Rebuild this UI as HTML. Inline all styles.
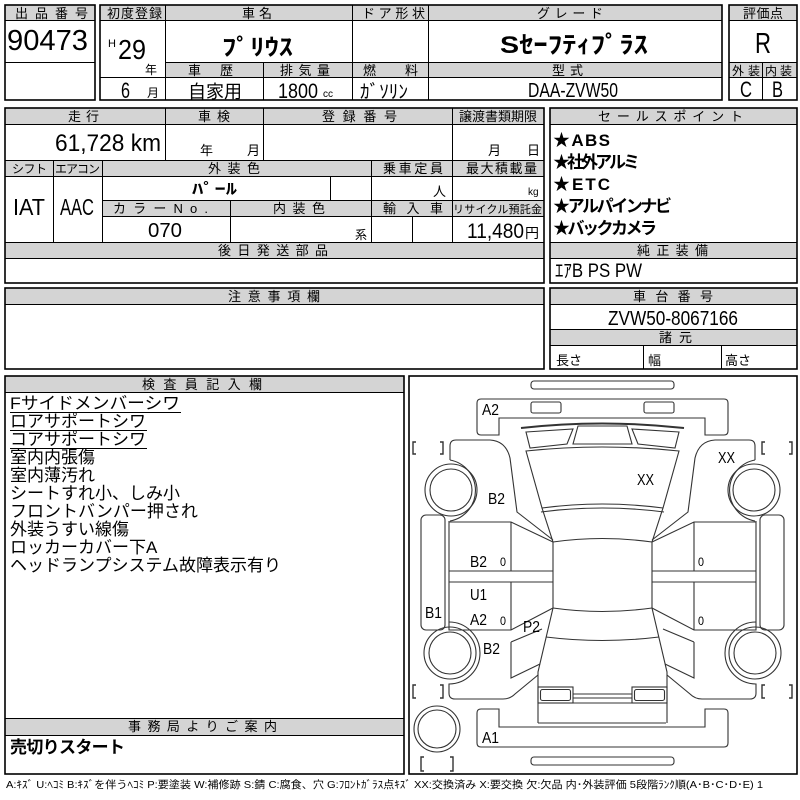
<!DOCTYPE html>
<html><head><meta charset="utf-8"><style>
html,body{margin:0;padding:0;background:#fff;}
svg{display:block;}
text{font-family:"Liberation Sans","Noto Sans CJK JP",sans-serif;fill:#000;}
.h{font-size:13px;}
.d{fill:none;stroke:#333;stroke-width:1.1;}
.lb{font-size:16px;}
</style></head><body>
<svg width="800" height="800" viewBox="0 0 800 800" xmlns="http://www.w3.org/2000/svg">
<rect width="800" height="800" fill="#fff"/>
<g fill="#d4d4d4">
<rect x="5" y="5" width="90" height="15"/>
<rect x="100" y="5" width="622" height="15"/>
<rect x="165" y="62" width="557" height="15"/>
<rect x="729" y="5" width="68" height="15"/>
<rect x="729" y="62" width="68" height="15"/>
<rect x="5" y="108" width="539" height="16"/>
<rect x="5" y="160" width="539" height="16"/>
<rect x="102" y="200" width="442" height="16"/>
<rect x="5" y="242" width="539" height="16"/>
<rect x="550" y="108" width="247" height="16"/>
<rect x="550" y="242" width="247" height="16"/>
<rect x="5" y="288" width="539" height="16"/>
<rect x="550" y="288" width="247" height="16"/>
<rect x="550" y="329" width="247" height="16"/>
<rect x="5" y="376" width="399" height="16"/>
<rect x="5" y="718" width="399" height="17"/>
</g>
<g stroke="#000" stroke-width="1" fill="none">
<path d="M5 20.5H95M5 62.5H95"/>
<path d="M100 20.5H722M165 62.5H722M100 77.5H722M165.5 5V100M352.5 5V100M428.5 5V100M263.5 62V100"/>
<path d="M729 20.5H797M729 62.5H797M729 77.5H797M762.5 62V100"/>
<path d="M5 124.5H544M5 160.5H544M5 176.5H544M102 200.5H544M102 216.5H544M5 242.5H544M5 258.5H544"/>
<path d="M165.5 108V160M263.5 108V160M452.5 108V242M53.5 160V242M102.5 160V242M371.5 160V242M330.5 176V200M230.5 200V242M412.5 216V242"/>
<path d="M550 124.5H797M550 242.5H797M550 258.5H797"/>
<path d="M5 304.5H544M550 304.5H797M550 329.5H797M550 345.5H797M643.5 345V369M721.5 345V369"/>
<path d="M5 392.5H404M5 718.5H404M5 735.5H404"/>
<path d="M10 412.5H181M10 430.5H147M10 448.5H147"/>
</g>
<g stroke="#000" stroke-width="1.6" fill="none">
<rect x="5" y="5" width="90" height="95"/>
<rect x="100" y="5" width="622" height="95"/>
<rect x="729" y="5" width="68" height="95"/>
<rect x="5" y="108" width="539" height="175"/>
<rect x="550" y="108" width="247" height="175"/>
<rect x="5" y="288" width="539" height="81"/>
<rect x="550" y="288" width="247" height="81"/>
<rect x="5" y="376" width="399" height="398"/>
<rect x="409" y="376" width="388" height="398"/>
</g>

<!-- Section 1 text -->
<text class="h" x="15" y="18" textLength="73" lengthAdjust="spacing">出品番号</text>
<text x="7" y="50" font-size="29" textLength="81" lengthAdjust="spacingAndGlyphs">90473</text>
<text class="h" x="107" y="18" textLength="55" lengthAdjust="spacing">初度登録</text>
<text class="h" x="242" y="18" textLength="30" lengthAdjust="spacing">車名</text>
<text class="h" x="362" y="18" textLength="63" lengthAdjust="spacing">ドア形状</text>
<text class="h" x="537" y="18" textLength="66" lengthAdjust="spacing">グレード</text>
<text x="108" y="47" font-size="11">H</text>
<text x="118" y="59" font-size="28" textLength="28" lengthAdjust="spacingAndGlyphs">29</text>
<text x="145" y="74" font-size="12">年</text>
<text x="121" y="98" font-size="22" textLength="9" lengthAdjust="spacingAndGlyphs">6</text>
<text x="147" y="97" font-size="12">月</text>
<text x="222" y="55" font-size="23" font-weight="bold" textLength="71" lengthAdjust="spacingAndGlyphs">ﾌﾟﾘｳｽ</text>
<text x="500" y="53" font-size="24" font-weight="bold" textLength="148" lengthAdjust="spacingAndGlyphs">Sｾｰﾌﾃｨﾌﾟﾗｽ</text>
<text class="h" x="188" y="75" textLength="45" lengthAdjust="spacing">車歴</text>
<text class="h" x="280" y="75" textLength="50" lengthAdjust="spacing">排気量</text>
<text class="h" x="363" y="75" textLength="55" lengthAdjust="spacing">燃料</text>
<text class="h" x="552" y="75" textLength="31" lengthAdjust="spacing">型式</text>
<text x="188" y="98" font-size="18" textLength="54" lengthAdjust="spacingAndGlyphs">自家用</text>
<text x="278" y="98" font-size="21" textLength="40" lengthAdjust="spacingAndGlyphs">1800</text>
<text x="323" y="97" font-size="10" textLength="10" lengthAdjust="spacingAndGlyphs">cc</text>
<text x="360" y="98" font-size="19" textLength="48" lengthAdjust="spacingAndGlyphs">ｶﾞｿﾘﾝ</text>
<text x="528" y="97" font-size="20" textLength="90" lengthAdjust="spacingAndGlyphs">DAA-ZVW50</text>
<text class="h" x="743" y="18" textLength="40" lengthAdjust="spacing">評価点</text>
<text x="755" y="53" font-size="29" textLength="16" lengthAdjust="spacingAndGlyphs">R</text>
<text x="732" y="75" font-size="12" textLength="28" lengthAdjust="spacing">外装</text>
<text x="765" y="75" font-size="12" textLength="27" lengthAdjust="spacing">内装</text>
<text x="740" y="97" font-size="22" textLength="12" lengthAdjust="spacingAndGlyphs">C</text>
<text x="772" y="97" font-size="22" textLength="11" lengthAdjust="spacingAndGlyphs">B</text>

<!-- Section 2 -->
<text class="h" x="68" y="121" textLength="31" lengthAdjust="spacing">走行</text>
<text class="h" x="198" y="121" textLength="32" lengthAdjust="spacing">車検</text>
<text class="h" x="322" y="121" textLength="75" lengthAdjust="spacing">登録番号</text>
<text class="h" x="459" y="121" textLength="78" lengthAdjust="spacing">譲渡書類期限</text>
<text x="55" y="151" font-size="24" textLength="106" lengthAdjust="spacingAndGlyphs">61,728 km</text>
<text x="200" y="155" font-size="13">年</text>
<text x="247" y="155" font-size="13">月</text>
<text x="488" y="155" font-size="13">月</text>
<text x="527" y="155" font-size="13">日</text>
<text x="12" y="173" font-size="12" textLength="35" lengthAdjust="spacing">シフト</text>
<text x="55" y="173" font-size="12" textLength="45" lengthAdjust="spacing">エアコン</text>
<text class="h" x="208" y="173" textLength="52" lengthAdjust="spacing">外装色</text>
<text class="h" x="383" y="173" textLength="60" lengthAdjust="spacing">乗車定員</text>
<text class="h" x="466" y="173" textLength="71" lengthAdjust="spacing">最大積載量</text>
<text x="13" y="215" font-size="23" textLength="32" lengthAdjust="spacingAndGlyphs">IAT</text>
<text x="60" y="215" font-size="23" textLength="34" lengthAdjust="spacingAndGlyphs">AAC</text>
<text x="192" y="194" font-size="15" font-weight="bold" textLength="45" lengthAdjust="spacingAndGlyphs">ﾊﾟｰﾙ</text>
<text x="433" y="196" font-size="13">人</text>
<text x="528" y="195" font-size="10">kg</text>
<text class="h" x="113" y="213" textLength="95" lengthAdjust="spacing">カラーNo.</text>
<text class="h" x="273" y="213" textLength="52" lengthAdjust="spacing">内装色</text>
<text class="h" x="383" y="213" textLength="60" lengthAdjust="spacing">輸入車</text>
<text x="453" y="213" font-size="11" textLength="89" lengthAdjust="spacing">リサイクル預託金</text>
<text x="148" y="237" font-size="20" textLength="34" lengthAdjust="spacingAndGlyphs">070</text>
<text x="355" y="239" font-size="12">系</text>
<text x="467" y="238" font-size="21" textLength="57" lengthAdjust="spacingAndGlyphs">11,480</text>
<text x="525" y="238" font-size="14">円</text>
<text class="h" x="218" y="255" textLength="110" lengthAdjust="spacing">後日発送部品</text>

<text class="h" x="598" y="121" textLength="145" lengthAdjust="spacing">セールスポイント</text>
<g font-size="17" font-weight="bold">
<text x="553" y="146" textLength="57" lengthAdjust="spacing">★ABS</text>
<text x="553" y="168" textLength="87" lengthAdjust="spacing">★社外アルミ</text>
<text x="553" y="190" textLength="57" lengthAdjust="spacing">★ETC</text>
<text x="553" y="212" textLength="119" lengthAdjust="spacing">★アルパインナビ</text>
<text x="553" y="234" textLength="104" lengthAdjust="spacing">★バックカメラ</text>
</g>
<text class="h" x="637" y="255" textLength="71" lengthAdjust="spacing">純正装備</text>
<text x="555" y="277" font-size="19" textLength="87" lengthAdjust="spacingAndGlyphs">ｴｱB PS PW</text>

<!-- Section 3 -->
<text class="h" x="228" y="301" textLength="92" lengthAdjust="spacing">注意事項欄</text>
<text class="h" x="633" y="301" textLength="80" lengthAdjust="spacing">車台番号</text>
<text x="608" y="325" font-size="20" textLength="130" lengthAdjust="spacingAndGlyphs">ZVW50-8067166</text>
<text class="h" x="659" y="342" textLength="33" lengthAdjust="spacing">諸元</text>
<text x="556" y="365" font-size="13">長さ</text>
<text x="648" y="365" font-size="13">幅</text>
<text x="725" y="365" font-size="13">高さ</text>

<!-- Section 4 -->
<text class="h" x="142" y="389" textLength="120" lengthAdjust="spacing">検査員記入欄</text>
<g font-size="17">
<text x="10" y="409" textLength="170" lengthAdjust="spacingAndGlyphs">Fサイドメンバーシワ</text>
<text x="10" y="427">ロアサポートシワ</text>
<text x="10" y="445">コアサポートシワ</text>
<text x="10" y="463">室内内張傷</text>
<text x="10" y="481">室内薄汚れ</text>
<text x="10" y="499">シートすれ小、しみ小</text>
<text x="10" y="517">フロントバンパー押され</text>
<text x="10" y="535">外装うすい線傷</text>
<text x="10" y="553">ロッカーカバー下A</text>
<text x="10" y="571">ヘッドランプシステム故障表示有り</text>
</g>
<text class="h" x="128" y="731" textLength="149" lengthAdjust="spacing">事務局よりご案内</text>
<text x="10" y="753" font-size="17" font-weight="bold" textLength="115" lengthAdjust="spacing">売切りスタート</text>

<text x="6" y="788" font-size="10.5" textLength="757" lengthAdjust="spacingAndGlyphs">A:ｷｽﾞ U:ﾍｺﾐ B:ｷｽﾞを伴うﾍｺﾐ P:要塗装 W:補修跡 S:錆 C:腐食、穴 G:ﾌﾛﾝﾄｶﾞﾗｽ点ｷｽﾞ XX:交換済み X:要交換 欠:欠品 内･外装評価 5段階ﾗﾝｸ順(A･B･C･D･E) 1</text>

<!-- Car diagram -->
<g class="d">
<rect x="531" y="381" width="143" height="8" rx="3"/>
<path d="M477,403 Q477,399 481,399 L724,399 Q728,399 728,403 L728,431 Q728,435 724,435 L705,435 L705,418 L499,418 L499,435 L481,435 Q477,435 477,431 Z"/>
<path d="M521,428 Q602,419 684,428" stroke-width="2"/>
<path d="M578,426 L627,426 L632,444 L573,444 Z"/>
<path d="M526,451 Q602,443 679,451 L663,508 Q602,500 542,508 Z"/>
<path d="M541,512 Q602,504 664,512"/>
<path d="M553,542 Q602,535 652,542"/>
<path d="M553,608 Q602,615 652,608"/>
<path d="M546,637 Q602,644 659,637"/>
<path d="M538,703 L666,703 M538,723 L666,723"/>
<path d="M573,694 L632,694 M573,698 L632,698"/>
<path d="M477,713 Q477,709 481,709 L499,709 L499,727 L705,727 L705,709 L724,709 Q728,709 728,713 L728,743 Q728,747 724,747 L481,747 Q477,747 477,743 Z"/>
<rect x="531" y="757" width="143" height="8" rx="3"/>
<circle cx="437" cy="729" r="23"/>
<circle cx="437" cy="729" r="19"/>
<path d="M424,757 L421,757 L421,771 L424,771 M450,757 L453,757 L453,771 L450,771" stroke-width="1.4"/>
</g>
<g id="half" class="d">
<rect x="531" y="402" width="30" height="11" rx="2"/>
<path d="M526,432 L573,429 L567,444 L530,448 Z"/>
<path d="M450,460 L450,446 Q450,440 456,440 L490,440 Q506,441 510,458 L517,512 L553,540"/>
<path d="M450,460 A31,31 0 0 1 450,521"/>
<circle cx="451" cy="490" r="26"/>
<circle cx="451" cy="490" r="21"/>
<rect x="421" y="515" width="24" height="115" rx="5"/>
<path d="M542,508 L553,542 L553,608"/>
<path d="M449,521 L449,630 L511,630 L553,608 M449,522 L511,522 L553,542 M511,522 L511,571 M511,582 L511,630 M449,571 L553,571 M449,582 L553,582"/>
<circle cx="450" cy="653" r="26"/>
<circle cx="450" cy="653" r="21"/>
<path d="M449,622 A31,31 0 0 1 449,684 L449,693 Q449,699 455,699 L503,699 Q510,699 515,694 L538,675"/>
<path d="M511,642 L542,629 M511,642 L511,678 L540,664"/>
<path d="M553,608 L538,672 L538,723"/>
<rect x="538" y="687" width="35" height="16"/>
<rect x="540.5" y="689.5" width="30" height="11" rx="2"/>
<path d="M416,442 L413,442 L413,454 L416,454 M440,442 L443,442 L443,454 L440,454" stroke-width="1.4"/>
<path d="M416,685 L413,685 L413,698 L416,698 M440,685 L443,685 L443,698 L440,698" stroke-width="1.4"/>
</g>
<use href="#half" transform="translate(1205,0) scale(-1,1)"/>

<g class="lb">
<text x="482" y="415" textLength="17" lengthAdjust="spacingAndGlyphs">A2</text>
<text x="718" y="463" textLength="17" lengthAdjust="spacingAndGlyphs">XX</text>
<text x="637" y="485" textLength="17" lengthAdjust="spacingAndGlyphs">XX</text>
<text x="488" y="504" textLength="17" lengthAdjust="spacingAndGlyphs">B2</text>
<text x="470" y="567" textLength="17" lengthAdjust="spacingAndGlyphs">B2</text>
<text x="470" y="600" textLength="17" lengthAdjust="spacingAndGlyphs">U1</text>
<text x="425" y="618" textLength="17" lengthAdjust="spacingAndGlyphs">B1</text>
<text x="470" y="625" textLength="17" lengthAdjust="spacingAndGlyphs">A2</text>
<text x="523" y="632" textLength="17" lengthAdjust="spacingAndGlyphs">P2</text>
<text x="483" y="654" textLength="17" lengthAdjust="spacingAndGlyphs">B2</text>
<text x="482" y="743" textLength="17" lengthAdjust="spacingAndGlyphs">A1</text>
</g>
<g font-size="12">
<text x="500" y="566" textLength="6" lengthAdjust="spacingAndGlyphs">0</text>
<text x="500" y="625" textLength="6" lengthAdjust="spacingAndGlyphs">0</text>
<text x="698" y="566" textLength="6" lengthAdjust="spacingAndGlyphs">0</text>
<text x="698" y="625" textLength="6" lengthAdjust="spacingAndGlyphs">0</text>
</g>
</svg>
</body></html>
